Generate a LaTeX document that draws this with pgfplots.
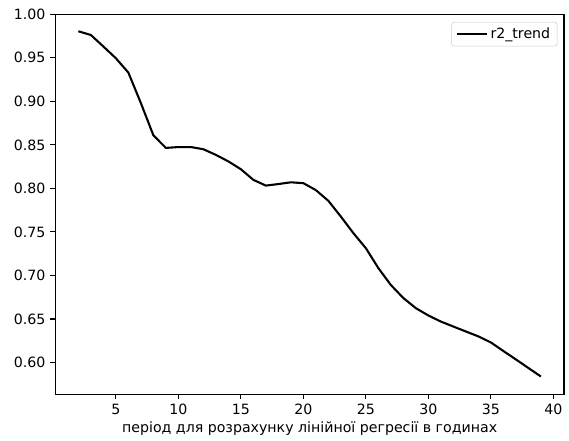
\documentclass[border=0pt]{standalone}
\usepackage{fontspec}
\setmainfont{DejaVu Sans}
\usepackage{pgfplots}
\pgfplotsset{compat=1.18}
\begin{document}
\begin{tikzpicture}
\begin{axis}[
    name=ax,
    scale only axis,
    width=366.5pt, height=273.6pt,
    xmin=0.15, xmax=40.85,
    ymin=0.5637, ymax=1.0,
    xtick={5,10,...,40},
    ytick={0.60,0.65,...,1.001},
    axis line style={black, line width=0.8pt},
    tick style={black, line width=0.8pt},
    tick align=outside,
    major tick length=3.5pt,
    xtick pos=bottom, ytick pos=left,
    font=\fontsize{10.2pt}{12pt}\selectfont,
    tick label style={font=\fontsize{10.2pt}{12pt}\selectfont},
    /pgf/number format/assume math mode=true,
    yticklabel style={/pgf/number format/fixed, /pgf/number format/fixed zerofill, /pgf/number format/precision=2},
    scaled y ticks=false,
    xlabel={період для розрахунку лінійної регресії в годинах},
    xlabel style={yshift=2pt},
    legend style={draw=black!20, rounded corners=2pt, fill=white, fill opacity=0.8, text opacity=1,
        font=\fontsize{10.2pt}{12pt}\selectfont, at={(0.987,0.98)}, anchor=north east,
        inner xsep=3pt},
    legend cell align=left,
    legend image code/.code={\draw[#1] (0pt,0pt) -- (21.6pt,0pt);},
]
\addplot[black, line width=1.5pt, line join=round] coordinates {
    (2,0.9805) (3,0.9762) (4,0.963) (5,0.9495) (6,0.933) (7,0.898) (8,0.861)
    (9,0.8465) (10,0.8475) (11,0.8475) (12,0.845) (13,0.8385) (14,0.831)
    (15,0.822) (16,0.8098) (17,0.8032) (18,0.805) (19,0.807) (20,0.806)
    (21,0.798) (22,0.7857) (23,0.7676) (24,0.7486) (25,0.7313) (26,0.7084)
    (27,0.689) (28,0.674) (29,0.6624) (30,0.654) (31,0.647) (32,0.6413)
    (33,0.6356) (34,0.630) (35,0.623) (36,0.6132) (37,0.6035) (38,0.5937)
    (39,0.5839)
};
\addlegendentry{r2\_trend}
\end{axis}
\path ([xshift=-39.8pt, yshift=-33.6pt]ax.south west) rectangle ([xshift=3.6pt, yshift=10.3pt]ax.north east);
\end{tikzpicture}
\end{document}
